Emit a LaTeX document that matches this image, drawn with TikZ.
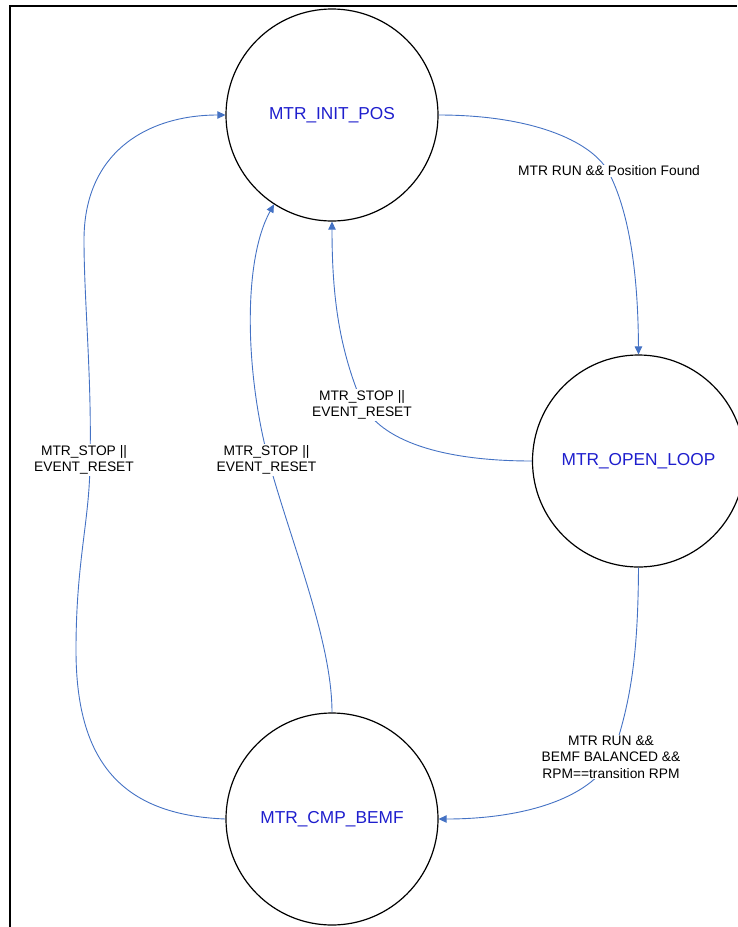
\documentclass[tikz,border=0pt]{standalone}
\usepackage{fontspec}
\setmainfont{Liberation Sans}
\usetikzlibrary{arrows.meta}
\definecolor{stateblue}{RGB}{30,30,205}
\definecolor{linkblue}{RGB}{68,114,196}
\begin{document}
\begin{tikzpicture}[x=1pt,y=-1pt,
  state/.style={circle,draw=black,line width=1.2pt,minimum size=212pt,inner sep=0pt,text=stateblue,font=\fontsize{17.3}{20}\selectfont},
  lbl/.style={fill=white,inner sep=1pt,align=center,font=\fontsize{13.8}{16.5}\selectfont},
  link/.style={draw=linkblue,line width=0.9pt,-{Triangle[length=8pt,width=7.5pt]}}]
\useasboundingbox (0,0) rectangle (737,927);
\draw[line width=2pt] (10,927) -- (10,5.5) -- (737,5.5);

\node[state] (init) at (332,115) {MTR\_INIT\_POS};
\node[state] (open) at (638.5,461) {MTR\_OPEN\_LOOP};
\node[state] (bemf) at (332,819) {MTR\_CMP\_BEMF};

\coordinate (c1) at (608,171);
\coordinate (c2) at (362,403);
\coordinate (c3) at (268,458);
\coordinate (c4) at (90,460);
\coordinate (c5) at (612,757);

\draw[link] (init.east) .. controls (530,115) and (590,140) .. (c1) .. controls (626,205) and (638,260) .. (open.north);
\draw[link] (open.west) .. controls (440,461) and (380,440) .. (c2) .. controls (340,350) and (332,300) .. (init.south);
\draw[link] (open.south) .. controls (638,650) and (632,700) .. (c5) .. controls (590,800) and (520,819) .. (bemf.east);
\draw[link] (bemf.north) .. controls (332,640) and (290,540) .. (c3) .. controls (245,370) and (243,260) .. (init.237);
\draw[link] (bemf.west) .. controls (120,815) and (76,760) .. (76,650) .. controls (76,560) and (90,520) .. (c4) .. controls (92,380) and (84,300) .. (84,240) .. controls (84,150) and (150,115) .. (init.west);

\node[lbl] (l1) at (609,171) {MTR RUN \&\& Position Found};
\node[lbl] (l2) at (362,405) {MTR\_STOP ||\\EVENT\_RESET};
\node[lbl] (l3) at (266.5,460) {MTR\_STOP ||\\EVENT\_RESET};
\node[lbl] (l4) at (84,460) {MTR\_STOP ||\\EVENT\_RESET};
\node[lbl] (l5) at (611,757) {MTR RUN \&\&\\BEMF BALANCED \&\&\\RPM==transition RPM};
\end{tikzpicture}
\end{document}
